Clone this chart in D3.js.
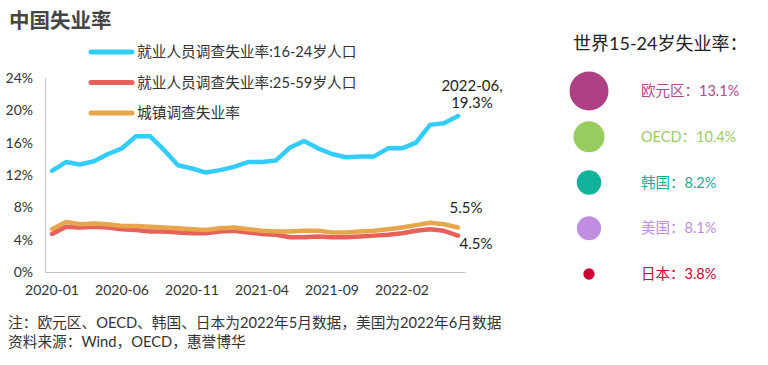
<!DOCTYPE html>
<html><head><meta charset="utf-8">
<script src="https://cdn.jsdelivr.net/npm/d3@7"></script>
<style>
html,body{margin:0;padding:0;background:#fff;}
svg{display:block;font-family:Lato,"Noto Sans CJK SC",sans-serif;}
</style></head>
<body>
<svg id="c" width="768" height="365"></svg>
<script>
const months = ["2020-01","2020-02","2020-03","2020-04","2020-05","2020-06","2020-07","2020-08","2020-09","2020-10","2020-11","2020-12",
"2021-01","2021-02","2021-03","2021-04","2021-05","2021-06","2021-07","2021-08","2021-09","2021-10","2021-11","2021-12",
"2022-01","2022-02","2022-03","2022-04","2022-05","2022-06"];
const youth = [12.5,13.6,13.3,13.7,14.6,15.3,16.8,16.8,15.1,13.2,12.8,12.3,12.6,13.0,13.6,13.6,13.8,15.4,16.2,15.3,14.6,14.2,14.3,14.3,15.3,15.3,16.0,18.2,18.4,19.3];
const prime = [4.7,5.6,5.5,5.6,5.5,5.3,5.2,5.0,5.0,4.9,4.8,4.8,5.0,5.1,4.9,4.7,4.6,4.3,4.3,4.4,4.3,4.3,4.4,4.5,4.6,4.8,5.1,5.3,5.1,4.5];
const urban = [5.3,6.2,5.9,6.0,5.9,5.7,5.7,5.6,5.5,5.4,5.3,5.2,5.4,5.5,5.3,5.1,5.0,5.0,5.1,5.1,4.9,4.9,5.0,5.1,5.3,5.5,5.8,6.1,5.9,5.5];
const seriesNames = ["就业人员调查失业率:16-24岁人口","就业人员调查失业率:25-59岁人口","城镇调查失业率"];
const seriesColors = ["#33ccff","#e8605a","#e8a64c"];
const yTicks = [0,4,8,12,16,20,24];
const xTickLabels = ["2020-01","2020-06","2020-11","2021-04","2021-09","2022-02"];
const worldNames = ["欧元区","OECD","韩国","美国","日本"];
const worldValues = [13.1,10.4,8.2,8.1,3.8];
const worldColors = ["#ad3f82","#99cc5e","#12b39a","#c08ee0","#cc0033"];
const worldTextColors = ["#b04a8a","#99cc66","#1aab90","#c08de0","#cc0033"];

const svg = d3.select("#c");
const txt = "#333";

svg.append("text").attr("x",9).attr("y",28).attr("font-size",20.5).attr("font-weight","bold")
  .attr("fill","#454545").attr("font-family","'Noto Sans CJK SC',sans-serif").text("中国失业率");

const x = d3.scaleBand().domain(months).range([45,465]);
const y = d3.scaleLinear().domain([0,24]).range([272,78]);

const gy = svg.append("g").attr("transform","translate(45,0)")
  .call(d3.axisLeft(y).tickValues(yTicks).tickFormat(d=>d+"%").tickSize(0).tickPadding(12));
gy.select(".domain").attr("stroke","#bfbfbf");
gy.selectAll("text").attr("font-size",14).attr("fill",txt).attr("font-family","Lato");

const gx = svg.append("g").attr("transform","translate(0,272)")
  .call(d3.axisBottom(x).tickValues(xTickLabels).tickSize(0).tickPadding(13));
gx.select(".domain").attr("stroke","#bfbfbf");
gx.selectAll("text").attr("font-size",14).attr("fill",txt).attr("font-family","Lato");

const line = d3.line().x((d,i)=>x(months[i])+x.bandwidth()/2).y(d=>y(d));
[youth,prime,urban].forEach((s,k)=>{
  svg.append("path").datum(s).attr("d",line).attr("fill","none")
    .attr("stroke",seriesColors[k]).attr("stroke-width",4.5)
    .attr("stroke-linejoin","round").attr("stroke-linecap","round");
});

// legend
seriesNames.forEach((n,k)=>{
  const yy = 52 + k*30.5;
  svg.append("line").attr("x1",91).attr("x2",132).attr("y1",yy).attr("y2",yy)
    .attr("stroke",seriesColors[k]).attr("stroke-width",5).attr("stroke-linecap","round");
  svg.append("text").attr("x",137).attr("y",yy+5).attr("font-size",14.7).attr("fill",txt)
    .attr("font-family","Lato,'Noto Sans CJK SC'").text(n);
});

// annotations
const lastX = x(months[29])+x.bandwidth()/2;
svg.append("text").attr("x",lastX+14).attr("y",91).attr("text-anchor","middle").attr("font-size",15).attr("fill","#222").attr("font-family","Lato").text("2022-06,");
svg.append("text").attr("x",lastX+14).attr("y",108).attr("text-anchor","middle").attr("font-size",15).attr("fill","#222").attr("font-family","Lato").text(youth[29]+"%");
svg.append("text").attr("x",lastX+8).attr("y",213).attr("text-anchor","middle").attr("font-size",15).attr("fill","#222").attr("font-family","Lato").text(urban[29].toFixed(1)+"%");
svg.append("text").attr("x",lastX+18).attr("y",249).attr("text-anchor","middle").attr("font-size",15).attr("fill","#222").attr("font-family","Lato").text(prime[29].toFixed(1)+"%");

// right panel
svg.append("text").attr("x",573).attr("y",50).attr("font-size",18).attr("fill","#222")
  .attr("font-family","Lato,'Noto Sans CJK SC'").text("世界15-24岁失业率：");
const r = d3.scaleLinear().domain([0,13.1]).range([0,19.5]);
const cy = d3.scalePoint().domain(worldNames).range([91,274]);
worldNames.forEach((n,i)=>{
  svg.append("circle").attr("cx",589).attr("cy",cy(n)).attr("r",r(worldValues[i])).attr("fill",worldColors[i]);
  svg.append("text").attr("x",641).attr("y",cy(n)+5).attr("font-size",14.5).attr("fill",worldTextColors[i])
    .attr("font-family","Lato,'Noto Sans CJK SC'").text(n+"："+worldValues[i].toFixed(1)+"%");
});

// footnotes
svg.append("text").attr("x",8).attr("y",328).attr("font-size",14.7).attr("fill",txt)
  .attr("font-family","Lato,'Noto Sans CJK SC'").text("注：欧元区、OECD、韩国、日本为2022年5月数据，美国为2022年6月数据");
svg.append("text").attr("x",8).attr("y",347).attr("font-size",14.7).attr("fill",txt)
  .attr("font-family","Lato,'Noto Sans CJK SC'").text("资料来源：Wind，OECD，惠誉博华");
</script>
</body></html>
